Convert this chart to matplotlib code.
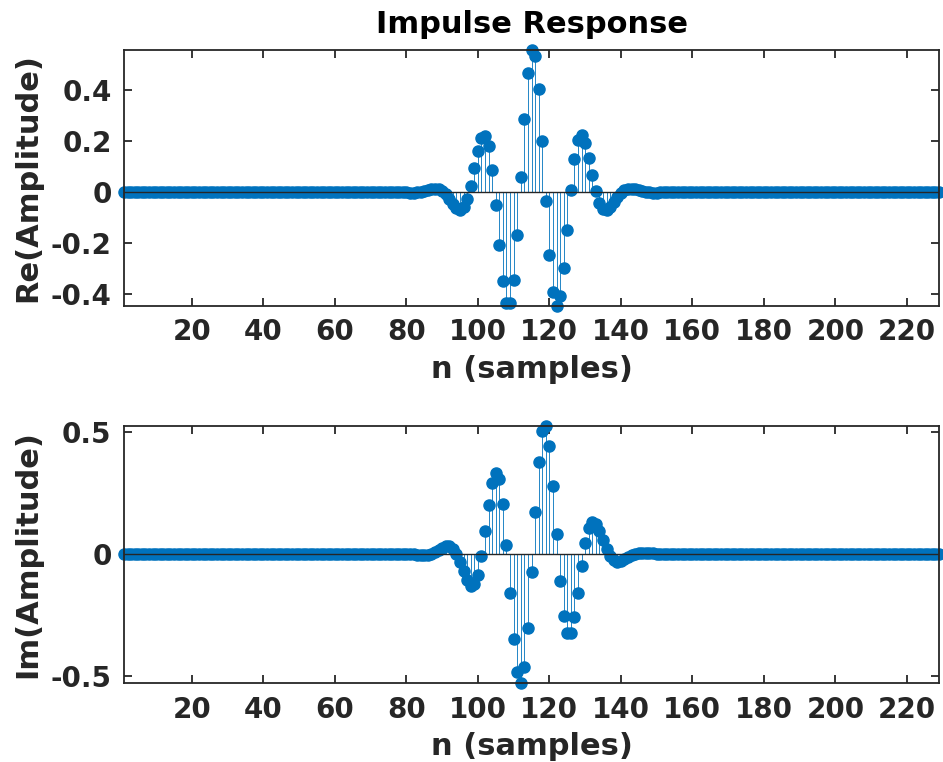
import numpy as np
import matplotlib
matplotlib.use("Agg")
import matplotlib.pyplot as plt

# samples 1..229, only 80..150 differ from zero
n_total = 229
n_first = 80
re_vals = [-0.001, -0.002, -0.002, -0.001, 0.001, 0.005, 0.008, 0.012, 0.014, 0.012,
           0.005, -0.008, -0.026, -0.046, -0.063, -0.070, -0.059, -0.027, 0.026, 0.094,
           0.161, 0.210, 0.221, 0.181, 0.086, -0.052, -0.208, -0.347, -0.433, -0.435,
           -0.343, -0.167, 0.059, 0.287, 0.467, 0.556, 0.533, 0.404, 0.199, -0.035,
           -0.246, -0.391, -0.445, -0.407, -0.296, -0.146, 0.007, 0.130, 0.204, 0.222,
           0.194, 0.135, 0.066, 0.003, -0.043, -0.066, -0.069, -0.057, -0.038, -0.018,
           -0.002, 0.009, 0.013, 0.013, 0.011, 0.007, 0.003, 0.000, -0.001, -0.002,
           -0.002]
im_vals = [0.000, -0.001, -0.002, -0.004, -0.005, -0.005, -0.004, 0.001, 0.007, 0.016,
           0.025, 0.032, 0.032, 0.022, 0.000, -0.033, -0.072, -0.109, -0.131, -0.125,
           -0.085, -0.009, 0.093, 0.202, 0.291, 0.333, 0.306, 0.204, 0.038, -0.161,
           -0.350, -0.485, -0.529, -0.465, -0.303, -0.074, 0.171, 0.378, 0.504, 0.524,
           0.441, 0.279, 0.080, -0.111, -0.254, -0.326, -0.324, -0.260, -0.159, -0.050,
           0.044, 0.106, 0.131, 0.124, 0.095, 0.057, 0.019, -0.010, -0.027, -0.033,
           -0.030, -0.022, -0.012, -0.004, 0.001, 0.004, 0.005, 0.004, 0.003, 0.002,
           0.001]
xticks = [20, 40, 60, 80, 100, 120, 140, 160, 180, 200, 220]
re_yticks = [-0.4, -0.2, 0, 0.2, 0.4]
re_ylabels = ['-0.4', '-0.2', '0', '0.2', '0.4']
im_yticks = [-0.5, 0, 0.5]
im_ylabels = ['-0.5', '0', '0.5']

n = np.arange(1, n_total + 1)
re = np.zeros(n_total)
im = np.zeros(n_total)
re[n_first - 1:n_first - 1 + len(re_vals)] = re_vals
im[n_first - 1:n_first - 1 + len(im_vals)] = im_vals

plt.rcParams['font.family'] = 'DejaVu Sans'
plt.rcParams['font.weight'] = 'bold'
blue = '#0072BD'
dark = '#262626'

fig = plt.figure(figsize=(9.43, 7.62), dpi=100)
ax1 = fig.add_axes([124/943, 1 - 306/762, 815/943, 256/762])
ax2 = fig.add_axes([124/943, 1 - 683/762, 815/943, 257/762])


def draw(ax, y, yticks, ylabels, ylabel):
    ax.vlines(n, 0, y, color=blue, lw=0.6, zorder=2)
    ax.plot(n, y, 'o', color=blue, ms=8, zorder=3, clip_on=False)
    ax.axhline(0, color=dark, lw=1.0, zorder=4)
    ax.set_xlim(1, n_total)
    ax.set_ylim(y.min(), y.max())
    ax.set_xticks(xticks)
    ax.set_yticks(yticks)
    ax.set_yticklabels(ylabels)
    ax.tick_params(direction='in', length=6, width=1.3, colors=dark,
                   labelsize=20, top=True, right=True, pad=9)
    for s in ax.spines.values():
        s.set_linewidth(1.3)
        s.set_color(dark)
        s.set_zorder(5)
    ax.set_xlabel('n (samples)', fontsize=22, fontweight='bold', color=dark)
    ax.xaxis.set_label_coords(0.5, -0.19)
    ax.set_ylabel(ylabel, fontsize=22, fontweight='bold', color=dark)
    ax.yaxis.set_label_coords(-0.1, 0.5)


draw(ax1, re, re_yticks, re_ylabels, 'Re(Amplitude)')
draw(ax2, im, im_yticks, im_ylabels, 'Im(Amplitude)')
ax1.set_title('Impulse Response', fontsize=22, fontweight='bold', color='black', pad=12)

fig.savefig('out.png', dpi=100)
